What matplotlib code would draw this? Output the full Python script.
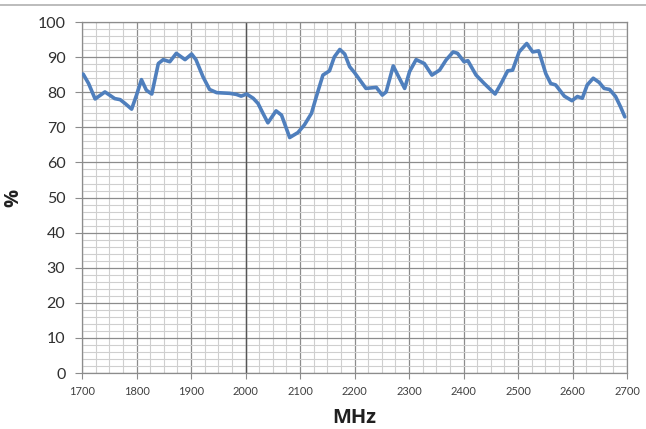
import numpy as np
import matplotlib.pyplot as plt
from matplotlib.ticker import MultipleLocator

plt.rcParams['font.family'] = ['Lato', 'DejaVu Sans']

# frequency (MHz) and value (%)
freq = [1702, 1712, 1724, 1742, 1760, 1770, 1779, 1791, 1800, 1809, 1818, 1828,
        1840, 1849, 1861, 1873, 1889, 1901, 1909, 1922, 1934, 1947, 1971, 1983,
        1992, 2002, 2014, 2023, 2032, 2041, 2056, 2066, 2081, 2096, 2108, 2121,
        2130, 2142, 2154, 2163, 2173, 2182, 2191, 2200, 2221, 2240, 2251, 2258,
        2271, 2281, 2292, 2301, 2313, 2328, 2342, 2356, 2368, 2381, 2389, 2401,
        2408, 2423, 2438, 2458, 2469, 2481, 2490, 2502, 2516, 2527, 2538, 2551,
        2560, 2569, 2585, 2599, 2609, 2618, 2627, 2638, 2649, 2658, 2668, 2679,
        2688, 2696]
pct = [85.2, 82.5, 78.1, 80.1, 78.2, 77.9, 76.8, 75.2, 79.2, 83.6, 80.6, 79.5,
       88.2, 89.3, 88.7, 91.1, 89.3, 90.9, 89.3, 84.4, 80.8, 79.9, 79.7, 79.4,
       78.9, 79.5, 78.3, 76.8, 74.0, 71.3, 74.7, 73.5, 67.1, 68.5, 70.7, 74.0,
       78.8, 84.9, 86.1, 90.1, 92.2, 90.9, 87.3, 85.6, 81.1, 81.4, 79.2, 80.1,
       87.5, 84.4, 81.1, 85.9, 89.3, 88.2, 84.9, 86.3, 89.2, 91.5, 91.1, 88.7,
       89.0, 84.9, 82.5, 79.5, 82.5, 86.1, 86.3, 91.5, 93.9, 91.5, 91.8, 85.3,
       82.5, 82.1, 78.9, 77.6, 78.8, 78.3, 82.1, 84.0, 82.8, 81.1, 80.8, 78.8,
       75.9, 73.0]

fig = plt.figure(figsize=(6.46, 4.29), dpi=100)
ax = fig.add_axes([0.127, 0.1305, 0.8436, 0.818])

ax.plot(freq, pct, color='#4f7fbd', lw=2.6, solid_joinstyle='round',
        solid_capstyle='round', zorder=3)

ax.set_xlim(1700, 2700)
ax.set_ylim(0, 100)
ax.xaxis.set_major_locator(MultipleLocator(100))
ax.xaxis.set_minor_locator(MultipleLocator(25))
ax.yaxis.set_major_locator(MultipleLocator(10))
ax.yaxis.set_minor_locator(MultipleLocator(2))

ax.grid(which='minor', color='#cfcfcf', lw=0.8)
ax.grid(which='major', color='#8c8c8c', lw=0.9)
ax.axvline(2000, color='#555555', lw=1.0, zorder=2)

for s in ax.spines.values():
    s.set_color('#8c8c8c')
    s.set_linewidth(0.9)

ax.tick_params(which='minor', length=0)
ax.tick_params(axis='x', which='major', length=4, color='#8c8c8c',
               labelsize=8, labelcolor='#404040', pad=5)
ax.tick_params(axis='y', which='major', length=5, color='#8c8c8c',
               labelsize=11.5, labelcolor='#303030', pad=7)

ax.set_xlabel('MHz', fontsize=14.5, fontweight='bold', color='#202020',
              labelpad=8, family=['Open Sans', 'DejaVu Sans'])
ax.set_ylabel('%', fontsize=14.5, fontweight='bold', color='#202020',
              labelpad=10, family=['Open Sans', 'DejaVu Sans'])

# thin border line at the top of the chart area
fig.add_artist(plt.Line2D([0, 1], [0.988, 0.988], color='#b0b0b0', lw=1.2))

fig.savefig('out.png', dpi=100)
